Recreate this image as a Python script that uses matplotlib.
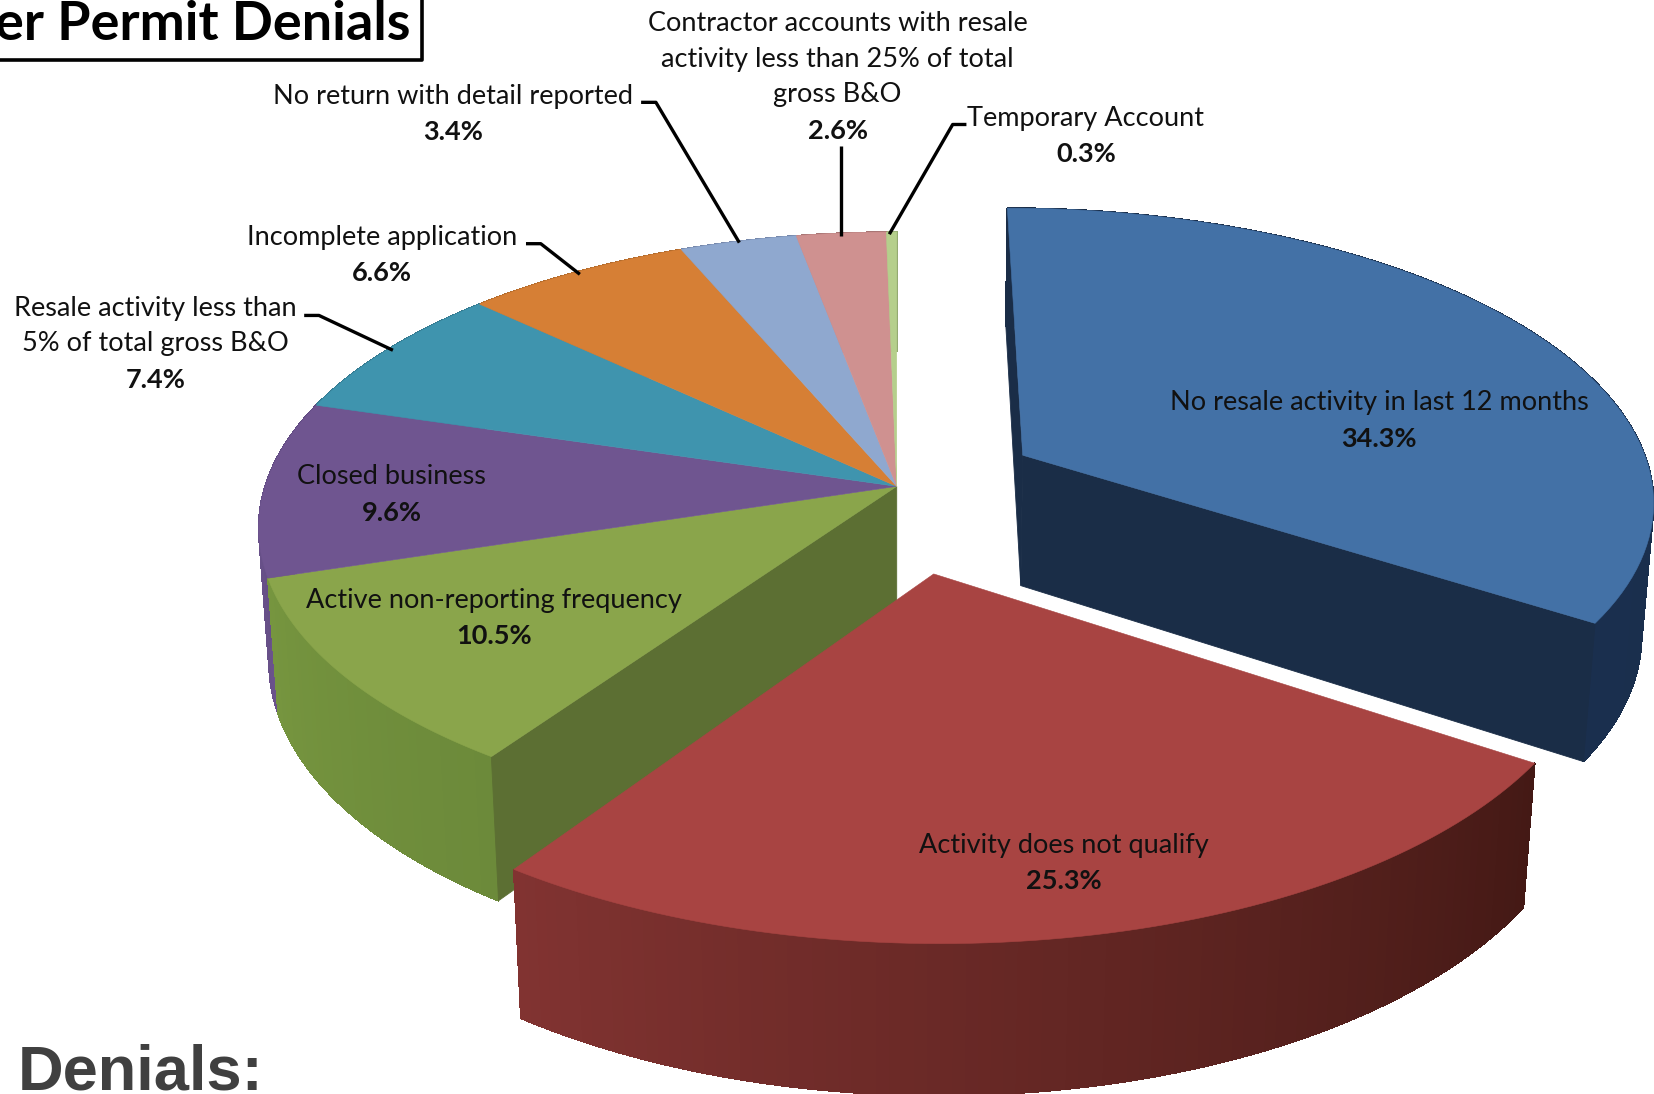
import numpy as np
import matplotlib
matplotlib.use("Agg")
import matplotlib.pyplot as plt
from matplotlib.colors import to_rgb

# ---- data ----
categories = ["No resale activity in last 12 months", "Activity does not qualify",
              "Active non-reporting frequency", "Closed business",
              "Resale activity less than\n5% of total gross B&O", "Incomplete application",
              "No return with detail reported",
              "Contractor accounts with resale\nactivity less than 25% of total\ngross B&O",
              "Temporary Account"]
shares = [34.3, 25.3, 10.5, 9.6, 7.4, 6.6, 3.4, 2.6, 0.3]
title_text = "er Permit Denials"
footer_text = "Denials:"

# ---- style ----
top_colors = ["#4371a6", "#a84442", "#8aa54b", "#6f5590", "#3f94ae",
              "#d67f35", "#8fa8cf", "#cf9190", "#b5cf8c"]
wall_from = ["#1a2d47", "#441915", "#6c8a3a", "#6b538c", "#33788e",
             "#b06a2c", "#7587aa", "#a87574", "#94aa72"]
wall_to = ["#1a2f4e", "#813331", "#76953f", "#5f4a80", "#33788e",
           "#b06a2c", "#7587aa", "#a87574", "#94aa72"]
face_colors = {0: "#1a2d47", 2: "#5c6f33"}
explode = [0.23, 0.295, 0, 0, 0, 0, 0, 0, 0]
CX, CY = 849, 461
RX, RY, PERSP = 598, 275, 0.141
DEPTH, DEPTH_W = 127, 0.016

label_pos = [(1306, 382), (1007, 801), (468, 569), (371, 452), (147, 292),
             (362, 225), (429, 91), (793, 22), (1028, 112)]
leaders = {4: [(288, 299), (302, 299), (372, 332)],
           5: [(498, 231), (512, 231), (549, 260)],
           6: [(607, 97), (621, 97), (700, 230)],
           7: [(796, 138), (796, 224)],
           8: [(915, 118), (902, 118), (842, 222)]}
LABEL_FONT = "Lato"
LABEL_SIZE = 19.5
LINE_H = 34


def project(x, y, bottom=False):
    w = 1 - PERSP * y + (DEPTH_W if bottom else 0)
    return CX + RX * x / w, CY + (RY * y + (DEPTH if bottom else 0)) / w


def rim(a0, a1, ox, oy, n=80):
    t = np.linspace(a0, a1, n)
    return np.sin(t) + ox, -np.cos(t) + oy


fig = plt.figure(figsize=(16.54, 10.94), dpi=100)
ax = fig.add_axes([0, 0, 1, 1])
ax.set_xlim(0, 1566)
ax.set_ylim(1037, 0)
ax.axis("off")

edges = np.concatenate([[0], np.cumsum(shares)]) / sum(shares) * 2 * np.pi
offsets = []
for i in range(len(shares)):
    mid = (edges[i] + edges[i + 1]) / 2
    offsets.append((explode[i] * np.sin(mid), -explode[i] * np.cos(mid)))


def draw_wall(i, z):
    a0, a1 = edges[i], edges[i + 1]
    ox, oy = offsets[i]
    n = max(8, int((a1 - a0) * 60))
    t = np.linspace(a0, a1, n + 1)
    c0, c1 = np.array(to_rgb(wall_from[i])), np.array(to_rgb(wall_to[i]))
    for k in range(n):
        s = k / max(n - 1, 1)
        col = c0 + (c1 - c0) * s
        tt = np.linspace(t[k], t[k + 1], 4)
        xs, ys = np.sin(tt) + ox, -np.cos(tt) + oy
        px, py = project(xs, ys)
        bx, by = project(xs, ys, bottom=True)
        ax.fill(np.r_[px, bx[::-1]], np.r_[py, by[::-1]], color=col, lw=0.6,
                antialiased=False, zorder=z)


def draw_face(i, angle, color, z):
    ox, oy = offsets[i]
    rx, ry = np.sin(angle) + ox, -np.cos(angle) + oy
    pts = [project(ox, oy), project(rx, ry), project(rx, ry, True), project(ox, oy, True)]
    ax.fill(*zip(*pts), color=color, lw=0.6, zorder=z)


def draw_top(i, z):
    ox, oy = offsets[i]
    xs, ys = rim(edges[i], edges[i + 1], ox, oy)
    px, py = project(xs, ys)
    ax0, ay0 = project(ox, oy)
    ax.fill(np.r_[ax0, px], np.r_[ay0, py], color=top_colors[i], lw=0.4, zorder=z)


# back-left group of slices
for i in [8, 7, 6, 5, 4, 3, 2]:
    draw_wall(i, 1)
draw_face(2, edges[2], face_colors[2], 2)
for i in range(2, 9):
    draw_top(i, 3)
# exploded blue
draw_face(0, edges[0], face_colors[0], 4)
draw_wall(0, 4)
draw_face(0, edges[1], face_colors[0], 4)
draw_top(0, 5)
# exploded red in front
draw_wall(1, 6)
draw_top(1, 7)

# labels
for i, (name, (lx, ly)) in enumerate(zip(categories, label_pos)):
    lines = name.split("\n")
    for j, line in enumerate(lines):
        ax.text(lx, ly + j * LINE_H, line, family=LABEL_FONT, fontsize=LABEL_SIZE,
                ha="center", va="center", color="#111111", zorder=10)
    ax.text(lx, ly + len(lines) * LINE_H, f"{shares[i]:.1f}%", family=LABEL_FONT,
            fontsize=LABEL_SIZE, fontweight="bold", ha="center", va="center",
            color="#111111", zorder=10)

for pts in leaders.values():
    ax.plot(*zip(*pts), color="black", lw=2.4, solid_capstyle="butt", zorder=9)

# clipped title box and footer
ax.text(389, 38, title_text, family="Lato", fontweight="bold", fontsize=39,
        ha="right", va="baseline", color="black", zorder=10)
ax.plot([0, 400, 400], [57, 57, 0], color="black", lw=2.6, zorder=10)
ax.text(17, 1033, footer_text, family="Liberation Sans", fontweight="bold", fontsize=45.5,
        ha="left", va="baseline", color="#404040", zorder=10)

fig.savefig("out.png", dpi=100)
